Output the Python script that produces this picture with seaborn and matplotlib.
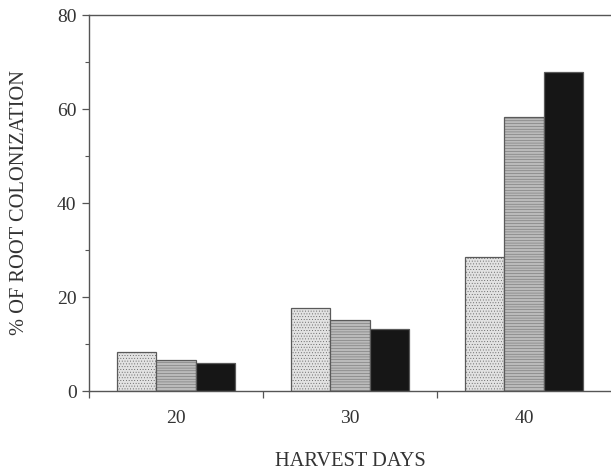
import matplotlib
matplotlib.use("Agg")
import matplotlib.pyplot as plt
import seaborn as sns
import pandas as pd
from matplotlib.ticker import MultipleLocator, FixedLocator

days = ["20", "30", "40"]
treatments = ["T1", "T2", "T3"]
t1_values = [8.3, 17.7, 28.5]
t2_values = [6.6, 15.1, 58.3]
t3_values = [6.0, 13.2, 67.9]

rows = []
for t, vals in zip(treatments, [t1_values, t2_values, t3_values]):
    for d, v in zip(days, vals):
        rows.append({"day": d, "treatment": t, "value": v})
df = pd.DataFrame(rows)

sns.set_theme(style="white")
plt.rcParams['font.family'] = ['Liberation Serif', 'DejaVu Serif']
plt.rcParams['hatch.color'] = '#a8a8a8'
plt.rcParams['hatch.linewidth'] = 0.3

fig = plt.figure(figsize=(6.11, 4.72), dpi=100)
ax = fig.add_axes([89/611, 1-391/472, 1-89/611, (391-15)/472])

colors = ["#e2e2e2", "#bababa", "#161616"]
sns.barplot(data=df, x="day", y="value", hue="treatment", order=days,
            hue_order=treatments, palette=colors, width=0.675,
            edgecolor="#5a5a5a", linewidth=0.9, ax=ax, legend=False,
            errorbar=None, saturation=1)

hatches = ["......", "------", ""]
for container, h in zip(ax.containers, hatches):
    for p in container.patches:
        p.set_hatch(h)
        p.set_hatch_color('#a8a8a8') if hasattr(p, "set_hatch_color") else None

ax.set_xlim(-0.5, 2.5)
ax.set_ylim(0, 80)
ax.yaxis.set_major_locator(MultipleLocator(20))
ax.yaxis.set_minor_locator(MultipleLocator(10))
ax.xaxis.set_minor_locator(FixedLocator([-0.5, 0.5, 1.5]))

for s in ["left", "top", "bottom"]:
    ax.spines[s].set_visible(True)
    ax.spines[s].set_color("#555555")
    ax.spines[s].set_linewidth(1.0)
ax.spines["right"].set_visible(False)

ax.tick_params(axis="y", which="major", direction="out", length=5, width=0.9,
               color="#555555", labelsize=14, labelcolor="#333333", pad=4, left=True)
ax.tick_params(axis="y", which="minor", direction="out", length=3, width=0.8,
               color="#555555", left=True)
ax.tick_params(axis="x", which="major", length=0, labelsize=14,
               labelcolor="#333333", pad=14)
ax.tick_params(axis="x", which="minor", direction="out", length=5, width=0.9,
               color="#555555", bottom=True)

ax.set_xlabel("HARVEST DAYS", fontsize=14.7, color="#333333", labelpad=18)
ax.set_ylabel("% OF ROOT COLONIZATION", fontsize=14.7, color="#333333", labelpad=20)
ax.grid(False)

fig.savefig("out.png", dpi=100)
